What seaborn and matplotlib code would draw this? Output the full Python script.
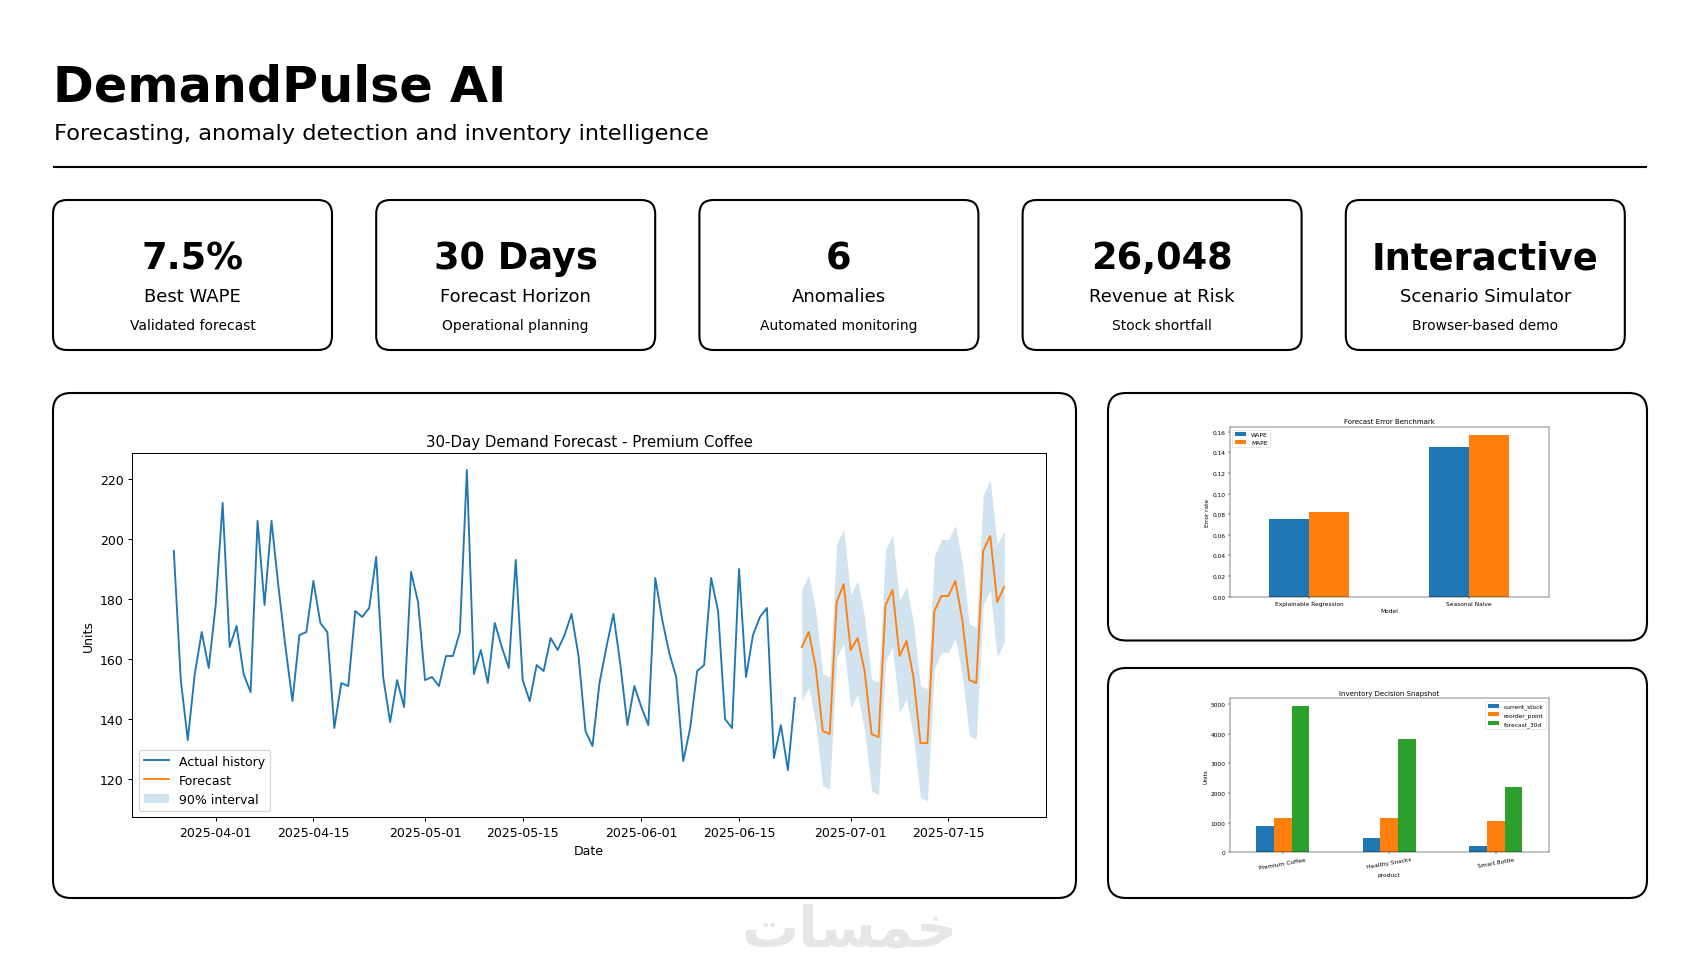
import matplotlib
matplotlib.use("Agg")
import matplotlib.dates as mdates
import matplotlib.pyplot as plt
import pandas as pd
import seaborn as sns
from matplotlib.patches import FancyBboxPatch
from matplotlib.ticker import MultipleLocator

W, H = 1700, 970

# --- data -------------------------------------------------------------------
HISTORY_START = "2025-03-26"
HISTORY_UNITS = [
    196, 153, 133, 155, 169, 157, 178, 212, 164, 171,
    155, 149, 206, 178, 206, 184, 164, 146, 168, 169,
    186, 172, 169, 137, 152, 151, 176, 174, 177, 194,
    154, 139, 153, 144, 189, 179, 153, 154, 151, 161,
    161, 169, 223, 155, 163, 152, 172, 164, 157, 193,
    153, 146, 158, 156, 167, 163, 168, 175, 161, 136,
    131, 152, 164, 175, 158, 138, 151, 144, 138, 187,
    173, 162, 154, 126, 137, 156, 158, 187, 176, 140,
    137, 190, 154, 168, 174, 177, 127, 138, 123, 147,
]
FORECAST_UNITS = [
    164, 169, 157, 136, 135, 179, 185, 163, 167, 156,
    135, 134, 178, 183, 161, 166, 154, 132, 132, 176,
    181, 181, 186, 173, 153, 152, 196, 201, 179, 184,
]
FORECAST_UPPER = [
    183.3, 188.0, 175.8, 155.0, 154.1, 198.3, 203.3, 181.3, 186.1, 173.9,
    153.3, 152.4, 196.4, 201.3, 179.4, 184.2, 172.2, 151.1, 150.2, 194.4,
    199.8, 199.8, 204.4, 192.2, 171.7, 170.6, 214.7, 219.8, 198.0, 202.6,
]
FORECAST_LOWER = [
    145.9, 150.6, 138.3, 117.8, 116.7, 160.6, 165.3, 143.9, 148.3, 136.1,
    116.1, 114.7, 159.4, 163.9, 142.0, 146.7, 134.4, 113.9, 112.8, 156.7,
    162.2, 162.2, 166.9, 154.4, 134.4, 133.3, 178.1, 182.8, 160.6, 165.6,
]

MODELS = ["Explainable Regression", "Seasonal Naive"]
WAPE = [0.075, 0.145]
MAPE = [0.082, 0.157]

PRODUCTS = ["Premium Coffee", "Healthy Snacks", "Smart Bottle"]
CURRENT_STOCK = [876, 494, 225]
REORDER_POINT = [1157, 1146, 1045]
FORECAST_30D = [4940, 3810, 2214]

KPI_VALUES = ["7.5%", "30 Days", "6", "26,048", "Interactive"]
KPI_LABELS = ["Best WAPE", "Forecast Horizon", "Anomalies", "Revenue at Risk", "Scenario Simulator"]
KPI_NOTES = ["Validated forecast", "Operational planning", "Automated monitoring",
             "Stock shortfall", "Browser-based demo"]

TAB = ["#1f77b4", "#ff7f0e", "#2ca02c"]


def px_axes(fig, x0, y0, x1, y1):
    """Add an axes from pixel box (top-left origin)."""
    return fig.add_axes([x0 / W, 1 - y1 / H, (x1 - x0) / W, (y1 - y0) / H])


def scaled_rc(s):
    # the embedded charts look like shrunk default matplotlib figures
    return {
        "font.size": 10 * s,
        "axes.titlesize": 12 * s,
        "axes.labelsize": 10 * s,
        "xtick.labelsize": 10 * s,
        "ytick.labelsize": 10 * s,
        "legend.fontsize": 10 * s,
        "axes.linewidth": 0.8 * s,
        "lines.linewidth": 1.5 * s,
        "patch.linewidth": 1.0 * s,
        "xtick.major.size": 3.5 * s,
        "ytick.major.size": 3.5 * s,
        "xtick.major.width": 0.8 * s,
        "ytick.major.width": 0.8 * s,
        "xtick.major.pad": 3.5 * s,
        "ytick.major.pad": 3.5 * s,
        "axes.labelpad": 4.0 * s,
        "axes.titlepad": 6.0 * s,
    }


def card(ax, x0, y0, x1, y1, radius):
    ax.add_patch(FancyBboxPatch(
        (x0, y0), x1 - x0, y1 - y0,
        boxstyle=f"round,pad=0,rounding_size={radius}",
        fc="white", ec="black", lw=1.5,
    ))


fig = plt.figure(figsize=(W / 100, H / 100), dpi=100, facecolor="white")

bg = fig.add_axes([0, 0, 1, 1])
bg.set_xlim(0, W)
bg.set_ylim(H, 0)
bg.axis("off")

# header
bg.text(53, 101, "DemandPulse AI", fontsize=35.5, fontweight="bold", va="baseline")
bg.text(54, 140, "Forecasting, anomaly detection and inventory intelligence",
        fontsize=16.2, va="baseline")
bg.plot([53, 1647], [168, 168], color="black", lw=1.5, solid_capstyle="butt")

# KPI cards
for i, (val, lab, note) in enumerate(zip(KPI_VALUES, KPI_LABELS, KPI_NOTES)):
    x0 = 53 + i * 323.2
    card(bg, x0, 201, x0 + 279, 351, 14)
    cx = x0 + 279 / 2
    bg.text(cx, 269.5, val, fontsize=26.5, fontweight="bold", ha="center", va="baseline")
    bg.text(cx, 302.5, lab, fontsize=13, ha="center", va="baseline")
    bg.text(cx, 330.5, note, fontsize=10, ha="center", va="baseline")

# chart panels
card(bg, 53, 394, 1076, 899, 18)
card(bg, 1108, 394, 1647, 641.5, 18)
card(bg, 1108, 669, 1647, 899, 18)

# watermark
bg.text(850, 947, "\uFE95\uFE8E\uFEB4\uFEE4\uFEA7", fontsize=41, color="#e6e6e6",
        ha="center", va="baseline", fontweight="bold")

# --- forecast line chart ----------------------------------------------------
hist_dates = pd.date_range(HISTORY_START, periods=len(HISTORY_UNITS), freq="D")
fc_dates = pd.date_range(hist_dates[-1] + pd.Timedelta(days=1),
                         periods=len(FORECAST_UNITS), freq="D")

with plt.rc_context(scaled_rc(0.9)):
    ax = px_axes(fig, 132.3, 454.3, 1045.7, 818.3)
    sns.lineplot(x=hist_dates, y=HISTORY_UNITS, ax=ax, color=TAB[0],
                 linewidth=1.35, estimator=None, label="Actual history")
    sns.lineplot(x=fc_dates, y=FORECAST_UNITS, ax=ax, color=TAB[1],
                 linewidth=1.35, estimator=None, label="Forecast")
    ax.fill_between(fc_dates, FORECAST_LOWER, FORECAST_UPPER, color=TAB[0],
                    alpha=0.2, lw=0, label="90% interval")
    ax.xaxis.set_major_locator(mdates.DayLocator(bymonthday=[1, 15]))
    ax.xaxis.set_major_formatter(mdates.DateFormatter("%Y-%m-%d"))
    ax.set_title("30-Day Demand Forecast - Premium Coffee")
    ax.set_xlabel("Date")
    ax.set_ylabel("Units")
    ax.legend(loc="lower left")

# --- error benchmark bars ---------------------------------------------------
err = pd.DataFrame({"Model": MODELS, "WAPE": WAPE, "MAPE": MAPE}).melt(
    id_vars="Model", var_name="metric", value_name="Error rate")

with plt.rc_context(scaled_rc(0.42)):
    ax = px_axes(fig, 1229.5, 427.7, 1549, 597.7)
    sns.barplot(data=err, x="Model", y="Error rate", hue="metric", palette=TAB[:2],
                saturation=1, width=0.5, linewidth=0, errorbar=None, ax=ax)
    ax.yaxis.set_major_locator(MultipleLocator(0.02))
    ax.set_title("Forecast Error Benchmark")
    ax.set_xlabel("Model")
    ax.set_ylabel("Error rate")
    sns.move_legend(ax, "upper left", title=None)

# --- inventory bars ---------------------------------------------------------
inv = pd.DataFrame({
    "product": PRODUCTS,
    "current_stock": CURRENT_STOCK,
    "reorder_point": REORDER_POINT,
    "forecast_30d": FORECAST_30D,
}).melt(id_vars="product", var_name="measure", value_name="Units")

with plt.rc_context(scaled_rc(0.42)):
    ax = px_axes(fig, 1229.5, 699.3, 1549, 853.3)
    sns.barplot(data=inv, x="product", y="Units", hue="measure", palette=TAB,
                saturation=1, width=0.5, linewidth=0, errorbar=None, ax=ax)
    ax.yaxis.set_major_locator(MultipleLocator(1000))
    ax.set_title("Inventory Decision Snapshot")
    ax.set_xlabel("product")
    ax.set_ylabel("Units")
    ax.tick_params(axis="x", labelrotation=10)
    sns.move_legend(ax, "upper right", title=None)

fig.savefig("out.png", dpi=100, facecolor="white")
